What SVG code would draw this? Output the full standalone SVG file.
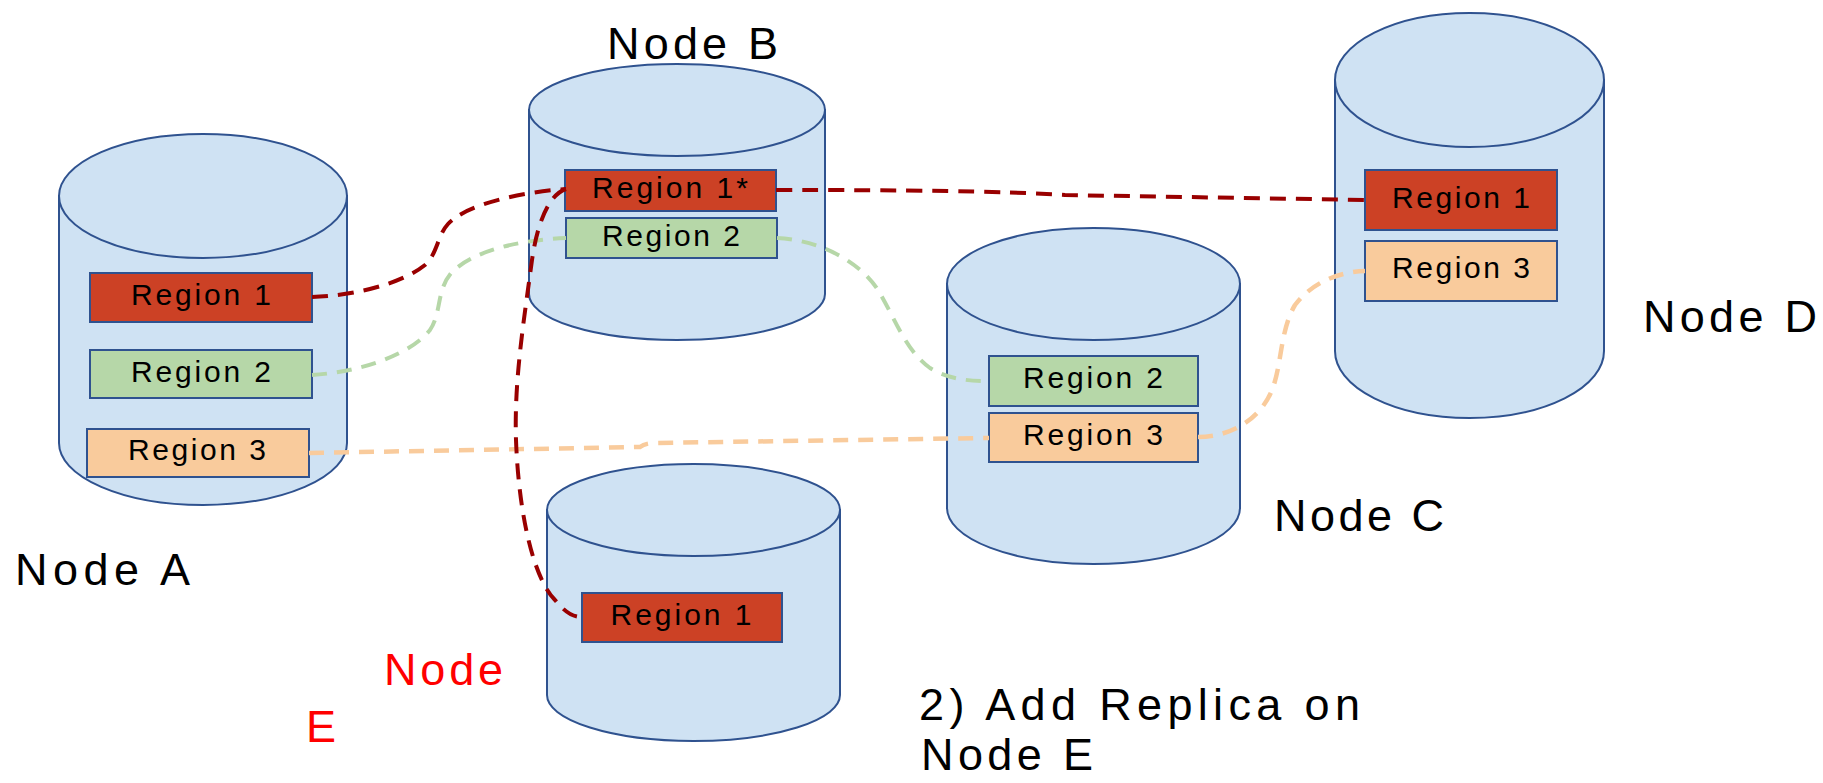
<svg xmlns="http://www.w3.org/2000/svg" width="1823" height="783" viewBox="0 0 1823 783">
<style>
.cyl{fill:#CFE2F3;stroke:#2F528F;stroke-width:2}
.box{stroke:#2F528F;stroke-width:2}
.r1{fill:#CC4125}
.r2{fill:#B6D7A8}
.r3{fill:#F9CB9C}
.rt{font-family:"Liberation Sans",Arial,sans-serif;font-size:30px;fill:#000;text-anchor:middle}
.lbl{font-family:"Liberation Sans",Arial,sans-serif;font-size:45px;fill:#000}
.conn{fill:none;stroke-linecap:butt}
.cr{stroke:#990000;stroke-width:4;stroke-dasharray:16 10}
.cg{stroke:#B6D7A8;stroke-width:4;stroke-dasharray:15 10}
.co{stroke:#F9CB9C;stroke-width:4.5;stroke-dasharray:15 10}
</style>
<rect width="1823" height="783" fill="#fff"/>

<g id="nodeA">
<path class="cyl" d="M59,196 L59,443 A144,62 0 0 0 347,443 L347,196 Z"/>
<ellipse class="cyl" cx="203" cy="196" rx="144" ry="62"/>
<rect class="box r1" x="90" y="273" width="222" height="49"/>
<text class="rt" x="201" y="305" textLength="140">Region 1</text>
<rect class="box r2" x="90" y="350" width="222" height="48"/>
<text class="rt" x="201" y="382" textLength="140">Region 2</text>
<rect class="box r3" x="87" y="429" width="222" height="48"/>
<text class="rt" x="197" y="460" textLength="138">Region 3</text>
<text class="lbl" x="15" y="585" textLength="175">Node A</text>
</g>

<g id="nodeB">
<path class="cyl" d="M529,110 L529,294 A148,46 0 0 0 825,294 L825,110 Z"/>
<ellipse class="cyl" cx="677" cy="110" rx="148" ry="46"/>
<rect class="box r1" x="565" y="170" width="211" height="41"/>
<text class="rt" x="670" y="198" textLength="156">Region 1*</text>
<rect class="box r2" x="566" y="218" width="211" height="40"/>
<text class="rt" x="671" y="246" textLength="138">Region 2</text>
<text class="lbl" x="607" y="59" textLength="171">Node B</text>
</g>

<g id="nodeC">
<path class="cyl" d="M947,284 L947,508 A146.5,56 0 0 0 1240,508 L1240,284 Z"/>
<ellipse class="cyl" cx="1093.5" cy="284" rx="146.5" ry="56"/>
<rect class="box r2" x="989" y="356" width="209" height="50"/>
<text class="rt" x="1093" y="388" textLength="140">Region 2</text>
<rect class="box r3" x="989" y="413" width="209" height="49"/>
<text class="rt" x="1093" y="445" textLength="140">Region 3</text>
<text class="lbl" x="1274" y="531" textLength="170">Node C</text>
</g>

<g id="nodeD">
<path class="cyl" d="M1335,80 L1335,351 A134.5,67 0 0 0 1604,351 L1604,80 Z"/>
<ellipse class="cyl" cx="1469.5" cy="80" rx="134.5" ry="67"/>
<rect class="box r1" x="1365" y="170" width="192" height="60"/>
<text class="rt" x="1461" y="208" textLength="138">Region 1</text>
<rect class="box r3" x="1365" y="241" width="192" height="60"/>
<text class="rt" x="1461" y="278" textLength="138">Region 3</text>
<text class="lbl" x="1643" y="332" textLength="174">Node D</text>
</g>

<g id="nodeE">
<path class="cyl" d="M547,510 L547,695 A146.5,46 0 0 0 840,695 L840,510 Z"/>
<ellipse class="cyl" cx="693.5" cy="510" rx="146.5" ry="46"/>
<rect class="box r1" x="582" y="593" width="200" height="49"/>
<text class="rt" x="681" y="625" textLength="141">Region 1</text>
<text class="lbl" x="384" y="685" textLength="119" style="fill:#FF0000">Node</text>
<text class="lbl" x="306" y="742" textLength="31" style="fill:#FF0000">E</text>
</g>

<g id="caption">
<text class="lbl" x="919" y="720" textLength="441">2) Add Replica on</text>
<text class="lbl" x="921" y="770" textLength="172">Node E</text>
</g>

<g id="connectors">
<path class="conn cr" d="M312,297 C350,296 400,285 425,265 C438,253 437,236 448,224 C465,205 520,192 566,189"/>
<path class="conn cg" d="M312,375 C360,372 410,355 430,330 C442,312 436,290 452,272 C475,250 520,240 566,238"/>
<path class="conn co" d="M309,453 L640,447 Q645,443 655,443 L989,438"/>
<path class="conn cr" d="M776,190 C900,190 1000,191 1065,195 L1365,200"/>
<path class="conn cg" d="M777,238 C820,240 860,262 878,290 C895,318 905,350 930,368 C950,380 970,381 989,381"/>
<path class="conn co" d="M1198,437 C1230,437 1260,420 1272,390 C1282,365 1280,330 1295,305 C1310,285 1335,272 1365,271"/>
<path class="conn cr" d="M566,189 C548,195 537,225 532,260 C524,320 514,380 516,440 C519,520 535,580 555,600 C565,612 572,617 582,617"/>
</g>
</svg>
